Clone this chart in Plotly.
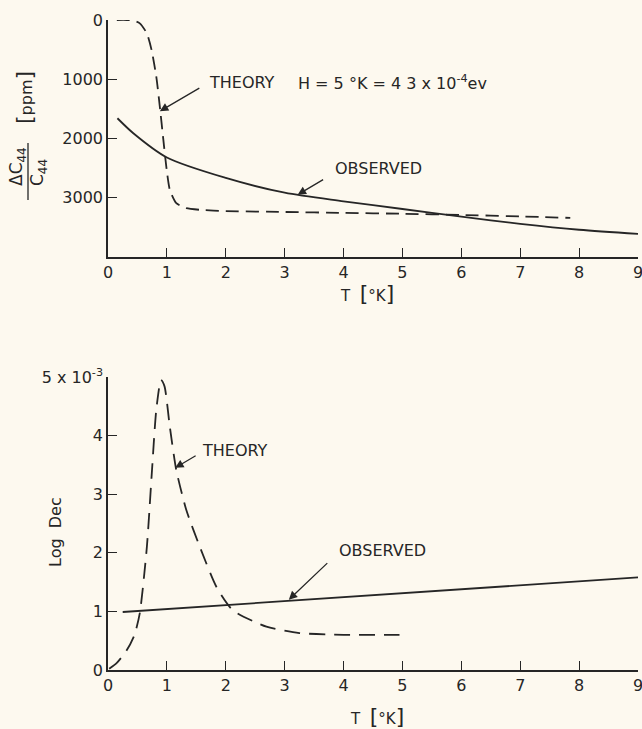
import plotly.graph_objects as go

# upper panel: elastic constant shift dC44/C44 [ppm] vs T [K]
t_theory_c44 = [0.15, 0.32, 0.45, 0.54, 0.66, 0.74, 0.82, 0.88, 0.94, 0.99, 1.05, 1.16, 1.33, 1.56,
                2.0, 3.0, 4.0, 5.0, 6.0, 7.0, 7.85]
c44_theory = [0, 0, 15, 56, 225, 506, 956, 1462, 2024, 2474, 2867, 3091, 3176, 3204,
              3225, 3240, 3255, 3270, 3290, 3315, 3340]
t_obs_c44 = [0.16, 0.43, 1.0, 2.0, 3.0, 4.0, 5.0, 6.0, 7.0, 8.0, 9.0]
c44_obs = [1658, 1911, 2320, 2665, 2915, 3060, 3190, 3320, 3440, 3540, 3610]

# lower panel: log decrement (x 1e-3) vs T [K]
t_theory_dec = [0.02, 0.15, 0.32, 0.45, 0.54, 0.66, 0.74, 0.82, 0.90, 0.96, 1.05, 1.16, 1.33,
                1.56, 1.84, 2.12, 2.69, 3.25, 4.0, 4.95]
dec_theory = [0.02, 0.12, 0.34, 0.6, 0.97, 2.1, 3.3, 4.44, 4.95, 4.84, 4.15, 3.41, 2.73,
              2.1, 1.42, 1.02, 0.74, 0.63, 0.6, 0.6]
t_obs_dec = [0.25, 9.0]
dec_obs = [0.99, 1.58]

x_ticks = list(range(10))
x_ticktext = [str(v) for v in x_ticks]
c44_ticks = [0, 1000, 2000, 3000]
c44_ticktext = ["0", "1000", "2000", "3000"]
dec_ticks = [0, 1, 2, 3, 4, 5]
dec_ticktext = ["0", "1", "2", "3", "4", "5 x 10<sup>-3</sup>"]

W, H = 642, 729
INK = "#262626"
BG = "#fdf9ef"
FONT = "DejaVu Sans"


def px(x):
    return x / W


def py(y):
    return 1 - y / H


fig = go.Figure()
fig.add_trace(go.Scatter(x=t_theory_c44, y=c44_theory, mode="lines", xaxis="x", yaxis="y",
                         line=dict(color=INK, width=1.8, dash="13px,7px", shape="spline", smoothing=0.6)))
fig.add_trace(go.Scatter(x=t_obs_c44, y=c44_obs, mode="lines", xaxis="x", yaxis="y",
                         line=dict(color=INK, width=1.8, shape="spline", smoothing=0.8)))
fig.add_trace(go.Scatter(x=t_theory_dec, y=dec_theory, mode="lines", xaxis="x2", yaxis="y2",
                         line=dict(color=INK, width=1.8, dash="16px,9px", shape="spline", smoothing=0.6)))
fig.add_trace(go.Scatter(x=t_obs_dec, y=dec_obs, mode="lines", xaxis="x2", yaxis="y2",
                         line=dict(color=INK, width=1.8)))

axis_common = dict(showline=True, linecolor=INK, linewidth=1.6, ticks="inside", ticklen=9,
                   tickwidth=1.4, tickcolor=INK, showgrid=False, zeroline=False, automargin=False,
                   ticklabeloverflow="allow",
                   tickfont=dict(family=FONT, size=16, color=INK), tickmode="array")

fig.update_layout(
    width=W, height=H, autosize=False,
    margin=dict(l=0, r=0, t=0, b=0, pad=0),
    paper_bgcolor=BG, plot_bgcolor=BG,
    showlegend=False,
    font=dict(family=FONT, color=INK),
    xaxis=dict(axis_common, domain=[px(108), px(638)], range=[0, 9], anchor="y",
               tickvals=x_ticks, ticktext=x_ticktext),
    yaxis=dict(axis_common, domain=[py(257), py(20)], range=[4000, 0], anchor="x",
               tickvals=c44_ticks, ticktext=c44_ticktext),
    xaxis2=dict(axis_common, domain=[px(108), px(638)], range=[0, 9], anchor="y2",
                tickvals=x_ticks, ticktext=x_ticktext),
    yaxis2=dict(axis_common, domain=[py(670), py(377)], range=[0, 5], anchor="x2",
                tickvals=dec_ticks, ticktext=dec_ticktext),
)

arrow = dict(showarrow=True, arrowhead=2, arrowsize=1.3, arrowwidth=1.3, arrowcolor=INK, text="")
bracket = "<span style='font-size:22px'>[</span>{}<span style='font-size:22px'>]</span>"


def label(x, y, text, size=16, anchor="left", angle=0):
    return dict(x=px(x), y=py(y), xref="paper", yref="paper", text=text, showarrow=False,
                xanchor=anchor, yanchor="middle", textangle=angle,
                font=dict(family=FONT, size=size, color=INK))


ann = [
    # upper panel labels
    label(207, 82, "THEORY"),
    label(296, 82, "H = 5 °K = 4 3 x 10<sup>-4</sup>ev"),
    label(333, 168, "OBSERVED"),
    dict(arrow, x=0.88, y=1540, xref="x", yref="y", ax=41, ay=-24),
    dict(arrow, x=3.22, y=2950, xref="x", yref="y", ax=27, ay=-16),
    # upper axis titles (fraction written sideways)
    label(17, 167, "ΔC<sub>44</sub>", size=17, anchor="center", angle=-90),
    label(38, 173, "C<sub>44</sub>", size=17, anchor="center", angle=-90),
    label(25, 98, bracket.format("ppm"), size=16, anchor="center", angle=-90),
    label(367, 294, "T  " + bracket.format("°K"), size=15, anchor="center"),
    # lower panel labels
    label(200, 450, "THEORY"),
    label(337, 550, "OBSERVED"),
    dict(arrow, x=1.14, y=3.45, xref="x2", yref="y2", ax=22, ay=-13),
    dict(arrow, x=3.07, y=1.2, xref="x2", yref="y2", ax=40, ay=-38),
    label(55, 532, "Log  Dec", anchor="center", angle=-90),
    label(377, 716, "T  " + bracket.format("°K"), size=15, anchor="center"),
]
fig.update_layout(annotations=ann)

# fraction bar of the upper y-axis title
fig.add_shape(type="line", xref="paper", yref="paper", x0=px(28), x1=px(28), y0=py(143), y1=py(200),
              line=dict(color=INK, width=1.3))

# no page margin, so the figure fills the window like the scan
fig.write_html("out.html", config={"displayModeBar": False},
               post_script="document.body.style.margin='0';"
                           "document.body.style.background='" + BG + "';")
